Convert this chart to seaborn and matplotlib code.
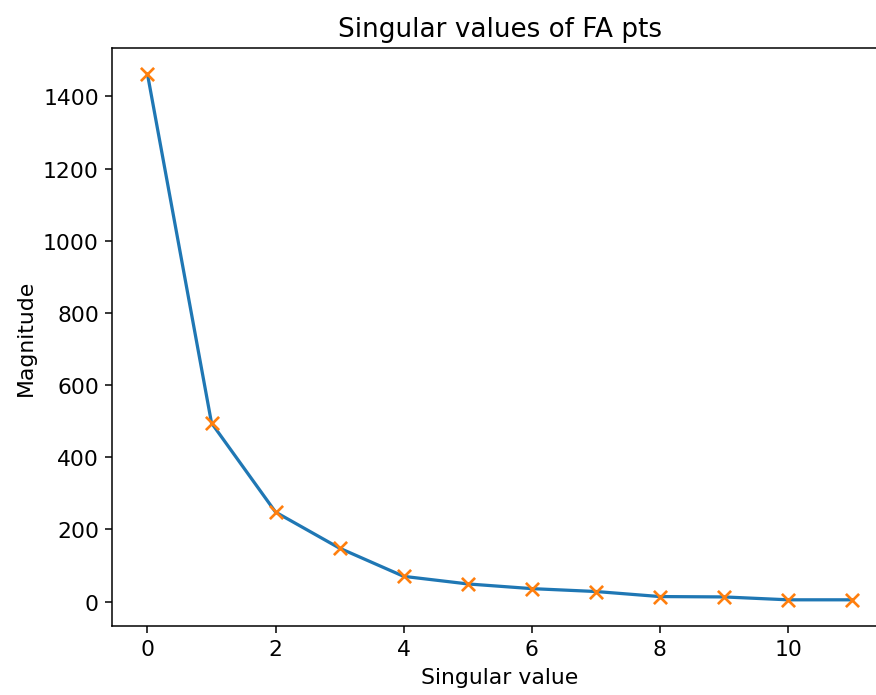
import matplotlib
matplotlib.use("Agg")
import matplotlib.pyplot as plt
import seaborn as sns

# Valores singulares
indices = list(range(12))
magnitudes = [1462, 495, 248, 148, 70, 49, 36, 28, 14, 13, 5, 5]

# Estilo por defecto de matplotlib (ejes negros)
sns.set_style("ticks", {"axes.edgecolor": "black", "xtick.color": "black",
                        "ytick.color": "black", "text.color": "black",
                        "axes.labelcolor": "black"})
plt.rcParams['font.family'] = ['DejaVu Sans']

fig = plt.figure(figsize=(6.4, 5.08), dpi=137)
# El eje derecho queda recortado fuera de la imagen, como en el original
ax = fig.add_axes([0.128, 0.099, 0.884, 0.831])

sns.lineplot(x=indices, y=magnitudes, ax=ax, color="#1f77b4", linewidth=1.7)
sns.scatterplot(x=indices, y=magnitudes, ax=ax, marker="x", color="#ff7f0e",
                s=48, linewidth=1.4, zorder=3)

ax.set_title("Singular values of FA pts", fontsize=13.8)
ax.set_xlabel("Singular value", fontsize=11.5)
ax.set_ylabel("Magnitude", fontsize=11.5)
ax.set_yticks(range(0, 1401, 200))
ax.set_xticks(range(0, 11, 2))
ax.tick_params(labelsize=11.5)

fig.savefig("out.png", dpi=137)
plt.close(fig)
